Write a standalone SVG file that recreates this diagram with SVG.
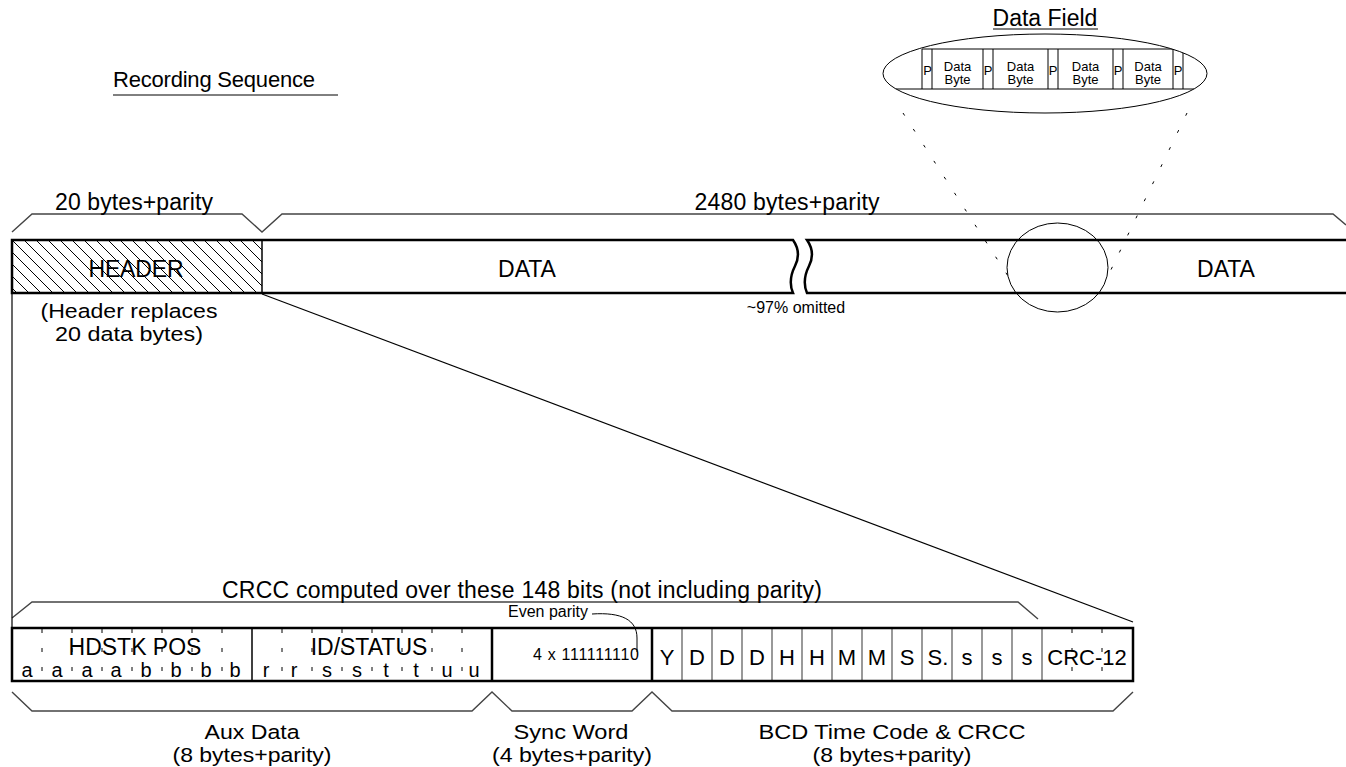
<svg xmlns="http://www.w3.org/2000/svg" width="1346" height="767" viewBox="0 0 1346 767">
<style>
text{font-family:"Liberation Sans",Arial,sans-serif;fill:#000}
.big{font-size:23px}
.lab{font-size:20.5px}
.mid{font-size:20px}
.cell{font-size:22px}
.sm{font-size:16px}
.xs{font-size:13px}
.thick{fill:none;stroke:#000;stroke-width:2.5}
.thin{fill:none;stroke:#000;stroke-width:1}
.cellline{stroke:#555;stroke-width:1.2}
.brace{fill:none;stroke:#444;stroke-width:1.4}
.tick{stroke:#000;stroke-width:1;stroke-dasharray:4 15}
.dot{stroke:#000;stroke-width:1;stroke-dasharray:3 16;fill:none}
</style>
<defs>
<pattern id="hatch" width="12" height="12" patternUnits="userSpaceOnUse">
<path d="M-3,-3 L15,15 M-3,9 L3,15 M9,-3 L15,3" stroke="#000" stroke-width="1"/>
</pattern>
<clipPath id="ellclip"><ellipse cx="1045" cy="73.5" rx="162" ry="39.5"/></clipPath>
</defs>
<rect width="1346" height="767" fill="#fff"/>

<g id="title">
<text x="113" y="87" style="font-size:22px" textLength="202">Recording Sequence</text>
<line x1="113" y1="95" x2="338" y2="95" stroke="#000" stroke-width="1"/>
</g>

<g id="connectors">
<path class="brace" d="M12,232 L32,214 H242 L262,232 L282,214 H1333 L1346,225"/>
<path class="brace" d="M12,618 L32,602 H1018 L1038,619"/>
<path class="brace" d="M12,692 L32,711 H472 L492,692 L512,711 H632 L652,692 L672,711 H1113 L1133,692"/>
<line x1="12" y1="293" x2="12" y2="628" stroke="#000" stroke-width="1.2"/>
<line x1="262" y1="294" x2="1133" y2="622" stroke="#000" stroke-width="1.2"/>
<line class="dot" x1="903" y1="113" x2="1008" y2="276"/>
<line class="dot" x1="1187" y1="113" x2="1106" y2="280"/>
<path class="thin" d="M592,614 C622,612 637,620 637,638 L637,652"/>
</g>

<g id="brace-labels">
<text class="big" x="134" y="210" text-anchor="middle" textLength="158">20 bytes+parity</text>
<text class="big" x="787" y="210" text-anchor="middle" textLength="185">2480 bytes+parity</text>
<text class="big" x="522" y="598" text-anchor="middle" textLength="600">CRCC computed over these 148 bits (not including parity)</text>
<text class="lab" x="252" y="739" text-anchor="middle" textLength="95" lengthAdjust="spacingAndGlyphs">Aux Data</text>
<text class="lab" x="252" y="762" text-anchor="middle" textLength="159" lengthAdjust="spacingAndGlyphs">(8 bytes+parity)</text>
<text class="lab" x="571" y="739" text-anchor="middle" textLength="115" lengthAdjust="spacingAndGlyphs">Sync Word</text>
<text class="lab" x="572" y="762" text-anchor="middle" textLength="160" lengthAdjust="spacingAndGlyphs">(4 bytes+parity)</text>
<text class="lab" x="892" y="739" text-anchor="middle" textLength="267" lengthAdjust="spacingAndGlyphs">BCD Time Code &amp; CRCC</text>
<text class="lab" x="892" y="762" text-anchor="middle" textLength="159" lengthAdjust="spacingAndGlyphs">(8 bytes+parity)</text>
</g>

<g id="header">
<rect x="12" y="240" width="250" height="53" fill="url(#hatch)" stroke="#000" stroke-width="1"/>
<text class="big" x="136" y="277" text-anchor="middle" textLength="95">HEADER</text>
<text class="lab" x="129" y="318" text-anchor="middle" textLength="177" lengthAdjust="spacingAndGlyphs">(Header replaces</text>
<text class="lab" x="129" y="341" text-anchor="middle" textLength="148" lengthAdjust="spacingAndGlyphs">20 data bytes)</text>
</g>

<g id="data-left">
<path class="thick" d="M12,240 H793 C800,250 799,258 795,266 C790,276 790,286 793,293 H12 Z" fill="none"/>
<line x1="262" y1="240" x2="262" y2="293" stroke="#000" stroke-width="1"/>
<text class="big" x="527" y="277" text-anchor="middle">DATA</text>
<text class="sm" x="796" y="313" text-anchor="middle">~97% omitted</text>
</g>

<g id="data-right">
<path class="thick" d="M1346,240 H807 C814,250 813,258 809,266 C804,276 804,286 807,293 H1346"/>
<text class="big" x="1226" y="277" text-anchor="middle">DATA</text>
<ellipse cx="1057.5" cy="267.5" rx="50.5" ry="44.5" class="thin"/>
</g>

<g id="data-field">
<text class="big" x="1045" y="26" text-anchor="middle">Data Field</text>
<line x1="993" y1="29" x2="1098" y2="29" stroke="#000" stroke-width="1"/>
<ellipse cx="1045" cy="73.5" rx="162" ry="39.5" class="thin"/>
<g clip-path="url(#ellclip)" stroke="#000" stroke-width="1">
<line x1="922" y1="49" x2="1183" y2="49"/>
<line x1="880" y1="89" x2="1210" y2="89"/>
<line x1="922" y1="49" x2="922" y2="89"/><line x1="932" y1="49" x2="932" y2="89"/>
<line x1="983" y1="49" x2="983" y2="89"/><line x1="993" y1="49" x2="993" y2="89"/>
<line x1="1048" y1="49" x2="1048" y2="89"/><line x1="1058" y1="49" x2="1058" y2="89"/>
<line x1="1113" y1="49" x2="1113" y2="89"/><line x1="1123" y1="49" x2="1123" y2="89"/>
<line x1="1173" y1="49" x2="1173" y2="89"/><line x1="1183" y1="49" x2="1183" y2="89"/>
</g>
<g class="xs" text-anchor="middle">
<text x="927.5" y="75">P</text><text x="988" y="75">P</text><text x="1053" y="75">P</text><text x="1118" y="75">P</text><text x="1178" y="75">P</text>
<text x="957.5" y="71">Data</text><text x="957.5" y="84">Byte</text>
<text x="1020.5" y="71">Data</text><text x="1020.5" y="84">Byte</text>
<text x="1085.5" y="71">Data</text><text x="1085.5" y="84">Byte</text>
<text x="1148" y="71">Data</text><text x="1148" y="84">Byte</text>
</g>
</g>

<g id="aux-data">
<g class="tick">
<line x1="42" y1="629" x2="42" y2="681"/><line x1="72" y1="629" x2="72" y2="681"/><line x1="102" y1="629" x2="102" y2="681"/><line x1="132" y1="629" x2="132" y2="681"/><line x1="162" y1="629" x2="162" y2="681"/><line x1="192" y1="629" x2="192" y2="681"/><line x1="222" y1="629" x2="222" y2="681"/>
<line x1="282" y1="629" x2="282" y2="681"/><line x1="312" y1="629" x2="312" y2="681"/><line x1="342" y1="629" x2="342" y2="681"/><line x1="372" y1="629" x2="372" y2="681"/><line x1="402" y1="629" x2="402" y2="681"/><line x1="432" y1="629" x2="432" y2="681"/><line x1="462" y1="629" x2="462" y2="681"/>
</g>
<line x1="252" y1="628" x2="252" y2="681" stroke="#000" stroke-width="1.5"/>
<text class="big" x="135" y="655" text-anchor="middle">HDSTK POS</text>
<text class="big" x="369" y="655" text-anchor="middle">ID/STATUS</text>
<g class="mid" text-anchor="middle">
<text x="27" y="677">a</text><text x="57" y="677">a</text><text x="87" y="677">a</text><text x="116" y="677">a</text>
<text x="146" y="677">b</text><text x="176" y="677">b</text><text x="206" y="677">b</text><text x="235" y="677">b</text>
<text x="266" y="677">r</text><text x="294" y="677">r</text><text x="327" y="677">s</text><text x="357" y="677">s</text>
<text x="386" y="677">t</text><text x="416" y="677">t</text><text x="447" y="677">u</text><text x="474" y="677">u</text>
</g>
</g>

<g id="sync-word">
<line x1="492" y1="628" x2="492" y2="681" stroke="#000" stroke-width="2.5"/>
<text x="586" y="660" text-anchor="middle" textLength="106" style="font-size:16px">4 x 111111110</text>
<text class="sm" x="548" y="617" text-anchor="middle">Even parity</text>
</g>

<g id="bcd-time-code">
<line x1="652" y1="628" x2="652" y2="681" stroke="#000" stroke-width="2.5"/>
<g class="cellline">
<line x1="682" y1="628" x2="682" y2="681"/><line x1="712" y1="628" x2="712" y2="681"/><line x1="742" y1="628" x2="742" y2="681"/><line x1="772" y1="628" x2="772" y2="681"/><line x1="802" y1="628" x2="802" y2="681"/><line x1="832" y1="628" x2="832" y2="681"/><line x1="862" y1="628" x2="862" y2="681"/><line x1="892" y1="628" x2="892" y2="681"/><line x1="922" y1="628" x2="922" y2="681"/><line x1="952" y1="628" x2="952" y2="681"/><line x1="982" y1="628" x2="982" y2="681"/><line x1="1012" y1="628" x2="1012" y2="681"/><line x1="1042" y1="628" x2="1042" y2="681"/>
</g>
<g class="tick"><line x1="1072" y1="629" x2="1072" y2="681"/><line x1="1102" y1="629" x2="1102" y2="681"/></g>
<g class="cell" text-anchor="middle">
<text x="667" y="665">Y</text><text x="697" y="665">D</text><text x="727" y="665">D</text><text x="757" y="665">D</text>
<text x="787" y="665">H</text><text x="817" y="665">H</text><text x="847" y="665">M</text><text x="877" y="665">M</text>
<text x="907" y="665">S</text><text x="938" y="665">S.</text><text x="967" y="665">s</text><text x="997" y="665">s</text><text x="1027" y="665">s</text>
<text x="1087" y="665">CRC-12</text>
</g>
</g>

<g id="record-frame">
<rect x="12" y="628" width="1121" height="53" class="thick"/>
</g>
</svg>
